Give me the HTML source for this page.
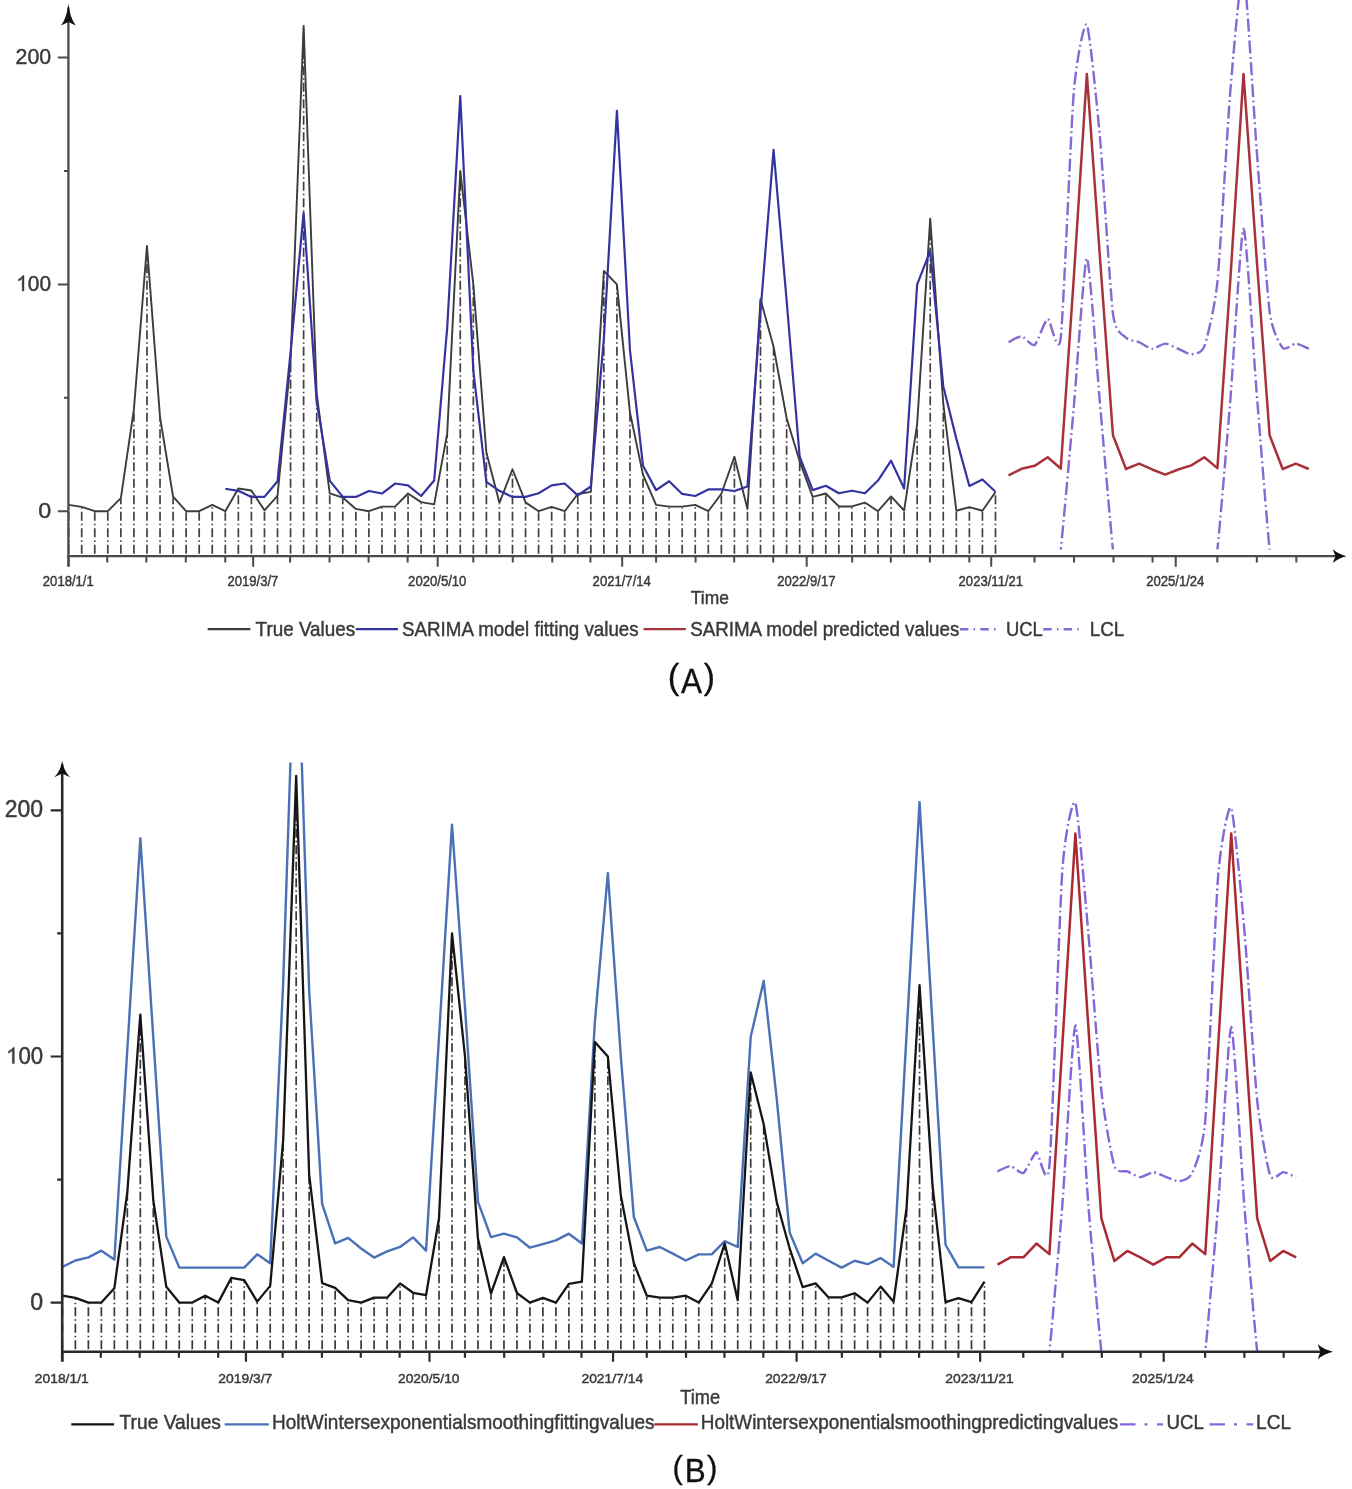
<!DOCTYPE html>
<html><head><meta charset="utf-8"><title>SARIMA and Holt-Winters forecasts</title>
<style>html,body{margin:0;padding:0;background:#fff;}body{width:1352px;height:1489px;overflow:hidden;font-family:"Liberation Sans",sans-serif;}svg{display:block;filter:blur(0.45px);}</style>
</head><body>
<svg width="1352" height="1489" viewBox="0 0 1352 1489">
<defs><clipPath id="clipA"><rect x="68" y="-5" width="1280" height="554.5"/></clipPath><clipPath id="clipB"><rect x="62" y="762.5" width="1280" height="589"/></clipPath></defs>
<rect width="1352" height="1489" fill="#fff"/>
<path d="M68.65,553.7 V505.85 M81.7,553.7 V507.89 M94.76,553.7 V512.2 M107.81,553.7 V512.2 M120.87,553.7 V499.05 M133.92,553.7 V410.14 M146.97,553.7 V246.84 M160.03,553.7 V418.08 M173.08,553.7 V497.68 M186.14,553.7 V512.2 M199.19,553.7 V512.2 M212.24,553.7 V505.85 M225.3,553.7 V512.2 M238.35,553.7 V489.52 M251.41,553.7 V491.56 M264.46,553.7 V511.29 M277.51,553.7 V496.78 M290.57,553.7 V362.51 M303.62,553.7 V26.85 M316.68,553.7 V394.26 M329.73,553.7 V494.28 M342.78,553.7 V498.59 M355.84,553.7 V509.93 M368.89,553.7 V512.2 M381.95,553.7 V507.66 M395,553.7 V507.66 M408.05,553.7 V494.51 M421.11,553.7 V503.13 M434.16,553.7 V505.4 M447.22,553.7 V434.41 M460.27,553.7 V172 M473.32,553.7 V285.4 M486.38,553.7 V453.46 M499.43,553.7 V503.81 M512.49,553.7 V470.24 M525.54,553.7 V503.35 M538.59,553.7 V512.2 M551.65,553.7 V507.89 M564.7,553.7 V512.2 M577.76,553.7 V494.96 M590.81,553.7 V492.92 M603.86,553.7 V272.02 M616.92,553.7 V285.4 M629.97,553.7 V413.54 M643.03,553.7 V475.91 M656.08,553.7 V505.85 M669.13,553.7 V507.66 M682.19,553.7 V507.66 M695.24,553.7 V505.85 M708.3,553.7 V512.2 M721.35,553.7 V494.74 M734.4,553.7 V457.77 M747.46,553.7 V509.93 M760.51,553.7 V300.14 M773.57,553.7 V347.77 M786.62,553.7 V419.21 M799.67,553.7 V462.3 M812.73,553.7 V497.91 M825.78,553.7 V494.51 M838.84,553.7 V507.44 M851.89,553.7 V507.44 M864.94,553.7 V503.58 M878,553.7 V512.2 M891.05,553.7 V497.46 M904.11,553.7 V511.52 M917.16,553.7 V425.11 M930.21,553.7 V219.63 M943.27,553.7 V404.47 M956.32,553.7 V511.75 M969.38,553.7 V508.12 M982.43,553.7 V511.75 M995.48,553.7 V492.92" stroke="#404040" stroke-width="1.7" fill="none" stroke-dasharray="9 3 1.5 3"/>
<path d="M68.65,504.85 L81.7,506.89 L94.76,511.2 L107.81,511.2 L120.87,498.05 L133.92,409.14 L146.97,245.84 L160.03,417.08 L173.08,496.68 L186.14,511.2 L199.19,511.2 L212.24,504.85 L225.3,511.2 L238.35,488.52 L251.41,490.56 L264.46,510.29 L277.51,495.78 L290.57,361.51 L303.62,25.85 L316.68,393.26 L329.73,493.28 L342.78,497.59 L355.84,508.93 L368.89,511.2 L381.95,506.66 L395,506.66 L408.05,493.51 L421.11,502.13 L434.16,504.4 L447.22,433.41 L460.27,171 L473.32,284.4 L486.38,452.46 L499.43,502.81 L512.49,469.24 L525.54,502.35 L538.59,511.2 L551.65,506.89 L564.7,511.2 L577.76,493.96 L590.81,491.92 L603.86,271.02 L616.92,284.4 L629.97,412.54 L643.03,474.91 L656.08,504.85 L669.13,506.66 L682.19,506.66 L695.24,504.85 L708.3,511.2 L721.35,493.74 L734.4,456.77 L747.46,508.93 L760.51,299.14 L773.57,346.77 L786.62,418.21 L799.67,461.3 L812.73,496.91 L825.78,493.51 L838.84,506.44 L851.89,506.44 L864.94,502.58 L878,511.2 L891.05,496.46 L904.11,510.52 L917.16,424.11 L930.21,218.63 L943.27,403.47 L956.32,510.75 L969.38,507.12 L982.43,510.75 L995.48,491.92" stroke="#3c3c3c" stroke-width="1.9" fill="none" stroke-linejoin="round"/>
<path d="M225.3,488.75 L238.35,490.79 L251.41,496.91 L264.46,496.91 L277.51,481.26 L290.57,352.44 L303.62,212.73 L316.68,401.66 L329.73,480.58 L342.78,496.91 L355.84,496.91 L368.89,491.01 L381.95,493.51 L395,483.53 L408.05,485.34 L421.11,496 L434.16,480.58 L447.22,327.49 L460.27,96.16 L473.32,370.58 L486.38,481.94 L499.43,490.79 L512.49,496.91 L525.54,496.91 L538.59,493.28 L551.65,485.34 L564.7,483.53 L577.76,495.32 L590.81,486.48 L603.86,338.83 L616.92,110.9 L629.97,350.17 L643.03,465.84 L656.08,490.11 L669.13,481.26 L682.19,493.96 L695.24,496 L708.3,489.43 L721.35,489.43 L734.4,491.01 L747.46,486.48 L760.51,311.62 L773.57,149.91 L786.62,300.28 L799.67,456.77 L812.73,490.11 L825.78,485.8 L838.84,493.28 L851.89,490.79 L864.94,493.28 L878,480.58 L891.05,460.62 L904.11,488.52 L917.16,284.4 L930.21,251.06 L943.27,386.23 L956.32,438.62 L969.38,486.03 L982.43,479.45 L995.48,491.7" stroke="#3434a0" stroke-width="2.2" fill="none" stroke-linejoin="round" clip-path="url(#clipA)"/>
<path d="M1008.54,342.23 C1009.84,341.64 1018.98,336.07 1021.59,336.34 C1024.2,336.61 1032.04,346.7 1034.65,344.96 C1037.26,343.21 1045.09,319.6 1047.7,318.87 C1050.31,318.15 1058.14,360.42 1060.75,337.7 C1063.36,314.97 1071.2,122.92 1073.81,91.62 C1076.42,60.32 1084.25,20.18 1086.86,24.71 C1089.47,29.25 1097.31,108.06 1099.92,136.98 C1102.53,165.9 1110.36,293.81 1112.97,313.88 C1115.58,333.96 1123.41,334.86 1126.02,337.7 C1128.63,340.53 1136.47,341.12 1139.08,342.23 C1141.69,343.35 1149.52,348.68 1152.13,348.81 C1154.74,348.95 1162.58,343.59 1165.19,343.59 C1167.8,343.59 1175.63,347.75 1178.24,348.81 C1180.85,349.88 1188.68,354.5 1191.29,354.25 C1193.9,354 1201.74,353.53 1204.35,346.32 C1206.96,339.1 1214.79,307.83 1217.4,282.13 C1220.01,256.44 1227.85,120.42 1230.46,89.35 C1233.07,58.28 1240.9,-34.48 1243.51,-28.58 C1246.12,-22.69 1253.95,114.3 1256.56,148.32 C1259.17,182.34 1267.01,291.66 1269.62,311.62 C1272.23,331.57 1280.06,344.71 1282.67,347.9 C1285.28,351.1 1293.12,343.5 1295.73,343.59 C1298.34,343.69 1307.47,348.29 1308.78,348.81" stroke="#8669d2" stroke-width="2.4" fill="none" stroke-dasharray="13 3.5 1.8 3.5" clip-path="url(#clipA)"/>
<path d="M1008.54,647.28 C1009.84,647.28 1018.98,647.28 1021.59,647.28 C1024.2,647.28 1032.04,647.28 1034.65,647.28 C1037.26,647.28 1045.09,657.03 1047.7,647.28 C1050.31,637.53 1058.14,573.8 1060.75,549.76 C1063.36,525.72 1071.2,436.02 1073.81,406.87 C1076.42,377.73 1084.25,258.7 1086.86,258.32 C1089.47,257.93 1097.31,373.87 1099.92,403.02 C1102.53,432.16 1110.36,525.33 1112.97,549.76 C1115.58,574.18 1123.41,637.53 1126.02,647.28 C1128.63,657.03 1136.47,647.28 1139.08,647.28 C1141.69,647.28 1149.52,647.28 1152.13,647.28 C1154.74,647.28 1162.58,647.28 1165.19,647.28 C1167.8,647.28 1175.63,647.28 1178.24,647.28 C1180.85,647.28 1188.68,647.28 1191.29,647.28 C1193.9,647.28 1201.74,657.03 1204.35,647.28 C1206.96,637.53 1214.79,574.64 1217.4,549.76 C1220.01,524.88 1227.85,430.6 1230.46,398.48 C1233.07,366.37 1240.9,229.29 1243.51,228.61 C1246.12,227.93 1253.95,359.56 1256.56,391.68 C1259.17,423.79 1267.01,524.2 1269.62,549.76 C1272.23,575.32 1280.06,637.53 1282.67,647.28 C1285.28,657.03 1293.12,647.28 1295.73,647.28 C1298.34,647.28 1307.47,647.28 1308.78,647.28" stroke="#8669d2" stroke-width="2.4" fill="none" stroke-dasharray="13 3.5 1.8 3.5" clip-path="url(#clipA)"/>
<path d="M1008.54,475.37 L1021.59,468.79 L1034.65,465.84 L1047.7,457.22 L1060.75,468.56 L1073.81,277.6 L1086.86,73.93 L1099.92,257.18 L1112.97,435.22 L1126.02,469.02 L1139.08,463.57 L1152.13,469.47 L1165.19,474.69 L1178.24,469.47 L1191.29,465.39 L1204.35,457.22 L1217.4,468.11 L1230.46,277.6 L1243.51,73.93 L1256.56,257.18 L1269.62,435.22 L1282.67,469.02 L1295.73,463.57 L1308.78,469.02" stroke="#a8323b" stroke-width="2.5" fill="none" stroke-linejoin="round"/>
<path d="M68.4,566.5 V7.6" stroke="#4a4a4a" stroke-width="2.3"/>
<path d="M67.4,556.2 H1342.5" stroke="#4a4a4a" stroke-width="2.3"/>
<path d="M68.4,3.6 Q69.88,18.05 75.8,25.5 L68.4,22 L61,25.5 Q66.92,18.05 68.4,3.6 Z" fill="#111"/>
<path d="M1346.5,556.2 Q1338.91,557.93 1332.7,563.1 L1335.5,556.2 L1332.7,549.3 Q1338.91,554.48 1346.5,556.2 Z" fill="#111"/>
<path d="M57.9,511.2 H68.4 M63.9,397.8 H68.4 M57.9,284.4 H68.4 M63.9,171 H68.4 M57.9,57.6 H68.4 M68.65,556.2 V566.7 M253.16,556.2 V566.7 M437.68,556.2 V566.7 M622.19,556.2 V566.7 M806.7,556.2 V566.7 M991.22,556.2 V566.7 M1175.73,556.2 V566.7 M107.27,556.2 V562.4 M146.32,556.2 V562.4 M185.79,556.2 V562.4 M225.27,556.2 V562.4 M290.07,556.2 V562.4 M329.54,556.2 V562.4 M368.59,556.2 V562.4 M407.64,556.2 V562.4 M473.29,556.2 V562.4 M512.77,556.2 V562.4 M552.25,556.2 V562.4 M590.44,556.2 V562.4 M656.09,556.2 V562.4 M695.57,556.2 V562.4 M734.18,556.2 V562.4 M773.23,556.2 V562.4 M852.19,556.2 V562.4 M890.81,556.2 V562.4 M929.85,556.2 V562.4 M969.33,556.2 V562.4 M1034.55,556.2 V562.4 M1074.03,556.2 V562.4 M1113.51,556.2 V562.4 M1152.56,556.2 V562.4 M1217.35,556.2 V562.4 M1256.83,556.2 V562.4 M1296.31,556.2 V562.4" stroke="#4a4a4a" stroke-width="2" fill="none"/>
<text transform="translate(38.17,517.7) scale(1.0606,1)" font-family="'Liberation Sans', sans-serif" font-size="22" fill="#3a3a3a" stroke="#3a3a3a" stroke-width="0.45">0</text>
<path d="M0.372,0 L0.284,0 L0.284,-0.560 Q0.252,-0.530 0.200,-0.500 Q0.150,-0.468 0.109,-0.446 L0.109,-0.531 Q0.175,-0.562 0.232,-0.609 Q0.290,-0.642 0.314,-0.698 L0.372,-0.698 Z" transform="translate(16.23,290.9) scale(20.9003,22.0000)" fill="#3a3a3a" stroke="#3a3a3a" stroke-width="0.0205"/>
<text transform="translate(27.86,290.9) scale(0.9500,1)" font-family="'Liberation Sans', sans-serif" font-size="22" fill="#3a3a3a" stroke="#3a3a3a" stroke-width="0.45">00</text>
<text transform="translate(15.53,64.1) scale(0.9695,1)" font-family="'Liberation Sans', sans-serif" font-size="22" fill="#3a3a3a" stroke="#3a3a3a" stroke-width="0.45">200</text>
<text transform="translate(42.83,585.5) scale(0.9360,1)" font-family="'Liberation Sans', sans-serif" font-size="14" fill="#3a3a3a" stroke="#3a3a3a" stroke-width="0.45">2018/1/1</text>
<text transform="translate(227.38,585.5) scale(0.9360,1)" font-family="'Liberation Sans', sans-serif" font-size="14" fill="#3a3a3a" stroke="#3a3a3a" stroke-width="0.45">2019/3/7</text>
<text transform="translate(408.12,585.5) scale(0.9360,1)" font-family="'Liberation Sans', sans-serif" font-size="14" fill="#3a3a3a" stroke="#3a3a3a" stroke-width="0.45">2020/5/10</text>
<text transform="translate(592.6,585.5) scale(0.9360,1)" font-family="'Liberation Sans', sans-serif" font-size="14" fill="#3a3a3a" stroke="#3a3a3a" stroke-width="0.45">2021/7/14</text>
<text transform="translate(777.25,585.5) scale(0.9360,1)" font-family="'Liberation Sans', sans-serif" font-size="14" fill="#3a3a3a" stroke="#3a3a3a" stroke-width="0.45">2022/9/17</text>
<text transform="translate(958.58,585.5) scale(0.9360,1)" font-family="'Liberation Sans', sans-serif" font-size="14" fill="#3a3a3a" stroke="#3a3a3a" stroke-width="0.45">2023/11/21</text>
<text transform="translate(1146.14,585.5) scale(0.9360,1)" font-family="'Liberation Sans', sans-serif" font-size="14" fill="#3a3a3a" stroke="#3a3a3a" stroke-width="0.45">2025/1/24</text>
<text transform="translate(690.85,604.4) scale(0.9670,1)" font-family="'Liberation Sans', sans-serif" font-size="18" fill="#3a3a3a" stroke="#3a3a3a" stroke-width="0.45">Time</text>
<path d="M207.7,629.2 H250.4" stroke="#3c3c3c" stroke-width="2.2"/>
<text transform="translate(255.62,635.7) scale(0.9628,1)" font-family="'Liberation Sans', sans-serif" font-size="19.6" fill="#3a3a3a" stroke="#3a3a3a" stroke-width="0.45">True Values</text>
<path d="M355.8,629.2 H398" stroke="#3434a0" stroke-width="2.2"/>
<text transform="translate(402.06,635.7) scale(0.9577,1)" font-family="'Liberation Sans', sans-serif" font-size="19.6" fill="#3a3a3a" stroke="#3a3a3a" stroke-width="0.45">SARIMA model fitting values</text>
<path d="M643.6,629.2 H685.8" stroke="#a8323b" stroke-width="2.2"/>
<text transform="translate(690.15,635.7) scale(0.9582,1)" font-family="'Liberation Sans', sans-serif" font-size="19.6" fill="#3a3a3a" stroke="#3a3a3a" stroke-width="0.45">SARIMA model predicted values</text>
<path d="M959.9,629.2 H996.6" stroke="#8669d2" stroke-width="2.4" stroke-dasharray="8.5 5.2 1.5 5.2"/>
<text transform="translate(1006.02,635.7) scale(0.9396,1)" font-family="'Liberation Sans', sans-serif" font-size="19.6" fill="#3a3a3a" stroke="#3a3a3a" stroke-width="0.45">UCL</text>
<path d="M1043.2,629.2 H1080" stroke="#8669d2" stroke-width="2.4" stroke-dasharray="8.5 5.2 1.5 5.2"/>
<text transform="translate(1089.7,635.7) scale(0.9583,1)" font-family="'Liberation Sans', sans-serif" font-size="19.6" fill="#3a3a3a" stroke="#3a3a3a" stroke-width="0.45">LCL</text>
<text transform="translate(667.72,689) scale(1.0092,1)" font-family="'Liberation Sans', sans-serif" font-size="34.4" fill="#111" stroke="#111" stroke-width="0.3">(</text>
<text transform="translate(681.1,692.9) scale(0.8821,1)" font-family="'Liberation Sans', sans-serif" font-size="35.8" fill="#111" stroke="#111" stroke-width="0.3">A</text>
<text transform="translate(703.63,689) scale(0.9763,1)" font-family="'Liberation Sans', sans-serif" font-size="34.4" fill="#111" stroke="#111" stroke-width="0.3">)</text>
<path d="M62.4,1349.3 V1296.71 M75.39,1349.3 V1298.92 M88.37,1349.3 V1303.6 M101.36,1349.3 V1303.6 M114.35,1349.3 V1289.33 M127.34,1349.3 V1192.86 M140.32,1349.3 V1015.66 M153.31,1349.3 V1201.47 M166.3,1349.3 V1287.85 M179.28,1349.3 V1303.6 M192.27,1349.3 V1303.6 M205.26,1349.3 V1296.71 M218.24,1349.3 V1303.6 M231.23,1349.3 V1278.99 M244.22,1349.3 V1281.2 M257.2,1349.3 V1302.62 M270.19,1349.3 V1286.87 M283.18,1349.3 V1141.17 M296.17,1349.3 V776.95 M309.15,1349.3 V1175.63 M322.14,1349.3 V1284.16 M335.13,1349.3 V1288.83 M348.11,1349.3 V1301.14 M361.1,1349.3 V1303.6 M374.09,1349.3 V1298.68 M387.07,1349.3 V1298.68 M400.06,1349.3 V1284.4 M413.05,1349.3 V1293.76 M426.04,1349.3 V1296.22 M439.02,1349.3 V1219.19 M452.01,1349.3 V934.45 M465,1349.3 V1057.5 M477.98,1349.3 V1239.86 M490.97,1349.3 V1294.49 M503.96,1349.3 V1258.07 M516.95,1349.3 V1294 M529.93,1349.3 V1303.6 M542.92,1349.3 V1298.92 M555.91,1349.3 V1303.6 M568.89,1349.3 V1284.9 M581.88,1349.3 V1282.68 M594.87,1349.3 V1042.98 M607.85,1349.3 V1057.5 M620.84,1349.3 V1196.55 M633.83,1349.3 V1264.22 M646.81,1349.3 V1296.71 M659.8,1349.3 V1298.68 M672.79,1349.3 V1298.68 M685.78,1349.3 V1296.71 M698.76,1349.3 V1303.6 M711.75,1349.3 V1284.65 M724.74,1349.3 V1244.54 M737.72,1349.3 V1301.14 M750.71,1349.3 V1073.5 M763.7,1349.3 V1125.18 M776.68,1349.3 V1202.7 M789.67,1349.3 V1249.46 M802.66,1349.3 V1288.1 M815.65,1349.3 V1284.4 M828.63,1349.3 V1298.43 M841.62,1349.3 V1298.43 M854.61,1349.3 V1294.25 M867.59,1349.3 V1303.6 M880.58,1349.3 V1287.6 M893.57,1349.3 V1302.86 M906.55,1349.3 V1209.1 M919.54,1349.3 V986.13 M932.53,1349.3 V1186.7 M945.52,1349.3 V1303.11 M958.5,1349.3 V1299.17 M971.49,1349.3 V1303.11 M984.48,1349.3 V1282.68" stroke="#383838" stroke-width="1.7" fill="none" stroke-dasharray="9 3 1.5 3"/>
<path d="M62.4,1266.92 L75.39,1260.52 L88.37,1257.32 L101.36,1250.67 L114.35,1259.53 L127.34,1049.12 L140.32,838.21 L153.31,1037.8 L166.3,1236.65 L179.28,1267.65 L192.27,1267.65 L205.26,1267.65 L218.24,1267.65 L231.23,1267.65 L244.22,1267.65 L257.2,1254.36 L270.19,1263.22 L283.18,982.67 L296.17,588.91 L309.15,990.05 L322.14,1203.91 L335.13,1243.29 L348.11,1237.88 L361.1,1248.46 L374.09,1257.56 L387.07,1251.41 L400.06,1246.98 L413.05,1237.38 L426.04,1250.67 L439.02,1036.81 L452.01,824.67 L465,1007.28 L477.98,1201.95 L490.97,1237.14 L503.96,1233.69 L516.95,1237.38 L529.93,1247.72 L542.92,1244.03 L555.91,1240.34 L568.89,1233.69 L581.88,1243.54 L594.87,1022.05 L607.85,873.16 L620.84,1056.5 L633.83,1216.96 L646.81,1250.67 L659.8,1246.98 L672.79,1253.63 L685.78,1260.52 L698.76,1254.36 L711.75,1254.36 L724.74,1241.07 L737.72,1246.98 L750.71,1036.81 L763.7,980.95 L776.68,1098.34 L789.67,1232.46 L802.66,1263.22 L815.65,1253.63 L828.63,1260.76 L841.62,1267.65 L854.61,1260.76 L867.59,1264.21 L880.58,1258.06 L893.57,1266.92 L906.55,1034.35 L919.54,802.03 L932.53,1024.51 L945.52,1244.77 L958.5,1267.41 L971.49,1267.41 L984.48,1267.41" stroke="#4a70b5" stroke-width="2.4" fill="none" stroke-linejoin="round" clip-path="url(#clipB)"/>
<path d="M62.4,1295.71 L75.39,1297.92 L88.37,1302.6 L101.36,1302.6 L114.35,1288.33 L127.34,1191.86 L140.32,1014.66 L153.31,1200.47 L166.3,1286.85 L179.28,1302.6 L192.27,1302.6 L205.26,1295.71 L218.24,1302.6 L231.23,1277.99 L244.22,1280.2 L257.2,1301.62 L270.19,1285.87 L283.18,1140.17 L296.17,775.95 L309.15,1174.63 L322.14,1283.16 L335.13,1287.83 L348.11,1300.14 L361.1,1302.6 L374.09,1297.68 L387.07,1297.68 L400.06,1283.4 L413.05,1292.76 L426.04,1295.22 L439.02,1218.19 L452.01,933.45 L465,1056.5 L477.98,1238.86 L490.97,1293.49 L503.96,1257.07 L516.95,1293 L529.93,1302.6 L542.92,1297.92 L555.91,1302.6 L568.89,1283.9 L581.88,1281.68 L594.87,1041.98 L607.85,1056.5 L620.84,1195.55 L633.83,1263.22 L646.81,1295.71 L659.8,1297.68 L672.79,1297.68 L685.78,1295.71 L698.76,1302.6 L711.75,1283.65 L724.74,1243.54 L737.72,1300.14 L750.71,1072.5 L763.7,1124.18 L776.68,1201.7 L789.67,1248.46 L802.66,1287.1 L815.65,1283.4 L828.63,1297.43 L841.62,1297.43 L854.61,1293.25 L867.59,1302.6 L880.58,1286.6 L893.57,1301.86 L906.55,1208.1 L919.54,985.13 L932.53,1185.7 L945.52,1302.11 L958.5,1298.17 L971.49,1302.11 L984.48,1281.68" stroke="#151515" stroke-width="2.3" fill="none" stroke-linejoin="round"/>
<path d="M997.46,1171.43 C998.76,1170.89 1007.85,1165.87 1010.45,1166.01 C1013.05,1166.16 1020.84,1174.28 1023.44,1172.91 C1026.04,1171.53 1033.83,1152.92 1036.42,1152.23 C1039.02,1151.54 1046.81,1194.29 1049.41,1166.01 C1052.01,1137.74 1059.8,905.76 1062.4,869.46 C1065,833.16 1072.79,796.62 1075.39,803.02 C1077.98,809.42 1085.78,904.66 1088.37,933.45 C1090.97,962.24 1098.76,1067.7 1101.36,1090.95 C1103.96,1114.21 1111.75,1157.97 1114.35,1166.01 C1116.94,1174.06 1124.74,1170.32 1127.33,1171.43 C1129.93,1172.54 1137.72,1177.02 1140.32,1177.09 C1142.92,1177.16 1150.71,1172.17 1153.31,1172.17 C1155.91,1172.17 1163.7,1176.18 1166.3,1177.09 C1168.89,1178 1176.68,1181.69 1179.28,1181.27 C1181.88,1180.85 1189.67,1178.98 1192.27,1172.91 C1194.87,1166.83 1202.66,1150.34 1205.26,1120.49 C1207.85,1090.63 1215.65,905.64 1218.24,874.39 C1220.84,843.13 1228.63,802.52 1231.23,807.94 C1233.83,813.35 1241.62,899.24 1244.22,928.53 C1246.81,957.81 1254.61,1076.09 1257.2,1100.8 C1259.8,1125.51 1267.59,1168.48 1270.19,1175.61 C1272.79,1182.75 1280.58,1172.02 1283.18,1172.17 C1285.78,1172.31 1294.87,1176.6 1296.17,1177.09" stroke="#8565da" stroke-width="2.4" fill="none" stroke-dasharray="13 3.5 1.8 3.5" clip-path="url(#clipB)"/>
<path d="M997.46,1450.26 C998.76,1450.26 1007.85,1450.26 1010.45,1450.26 C1013.05,1450.26 1020.84,1450.26 1023.44,1450.26 C1026.04,1450.26 1033.83,1460.1 1036.42,1450.26 C1039.02,1440.42 1046.81,1376.43 1049.41,1351.82 C1052.01,1327.21 1059.8,1236.82 1062.4,1204.16 C1065,1171.5 1072.79,1025.12 1075.39,1025.25 C1077.98,1025.37 1085.78,1172.73 1088.37,1205.39 C1090.97,1238.05 1098.76,1327.33 1101.36,1351.82 C1103.96,1376.31 1111.75,1440.42 1114.35,1450.26 C1116.94,1460.1 1124.74,1450.26 1127.33,1450.26 C1129.93,1450.26 1137.72,1450.26 1140.32,1450.26 C1142.92,1450.26 1150.71,1450.26 1153.31,1450.26 C1155.91,1450.26 1163.7,1450.26 1166.3,1450.26 C1168.89,1450.26 1176.68,1450.26 1179.28,1450.26 C1181.88,1450.26 1189.67,1460.1 1192.27,1450.26 C1194.87,1440.42 1202.66,1376.43 1205.26,1351.82 C1207.85,1327.21 1215.65,1236.65 1218.24,1204.16 C1220.84,1171.67 1228.63,1026.97 1231.23,1026.97 C1233.83,1026.97 1241.62,1171.67 1244.22,1204.16 C1246.81,1236.65 1254.61,1327.21 1257.2,1351.82 C1259.8,1376.43 1267.59,1440.42 1270.19,1450.26 C1272.79,1460.1 1280.58,1450.26 1283.18,1450.26 C1285.78,1450.26 1294.87,1450.26 1296.17,1450.26" stroke="#8565da" stroke-width="2.4" fill="none" stroke-dasharray="13 3.5 1.8 3.5" clip-path="url(#clipB)"/>
<path d="M997.46,1264.7 L1010.45,1257.32 L1023.44,1257.32 L1036.42,1243.54 L1049.41,1254.12 L1062.4,1044.19 L1075.39,833.53 L1088.37,1026.97 L1101.36,1218.43 L1114.35,1261.01 L1127.33,1250.92 L1140.32,1257.32 L1153.31,1264.7 L1166.3,1257.32 L1179.28,1257.32 L1192.27,1243.54 L1205.26,1254.12 L1218.24,1044.19 L1231.23,833.53 L1244.22,1026.97 L1257.2,1218.43 L1270.19,1261.01 L1283.18,1250.92 L1296.17,1257.32" stroke="#aa2a32" stroke-width="2.5" fill="none" stroke-linejoin="round"/>
<path d="M62.2,1361.5 V764.6" stroke="#2a2a2a" stroke-width="2.6"/>
<path d="M61.2,1351.8 H1329" stroke="#2a2a2a" stroke-width="2.6"/>
<path d="M62.2,760.6 Q63.8,771.56 70.2,777.2 L62.2,773.6 L54.2,777.2 Q60.6,771.56 62.2,760.6 Z" fill="#111"/>
<path d="M1333,1351.8 Q1324.59,1353.67 1317.7,1359.3 L1320.4,1351.8 L1317.7,1344.3 Q1324.59,1349.92 1333,1351.8 Z" fill="#111"/>
<path d="M50.7,1302.6 H62.2 M57.2,1179.55 H62.2 M50.7,1056.5 H62.2 M57.2,933.45 H62.2 M50.7,810.4 H62.2 M62.4,1351.8 V1361.8 M245.95,1351.8 V1361.8 M429.5,1351.8 V1361.8 M613.05,1351.8 V1361.8 M796.6,1351.8 V1361.8 M980.15,1351.8 V1361.8 M1163.7,1351.8 V1361.8 M100.82,1351.8 V1357.8 M139.66,1351.8 V1357.8 M178.93,1351.8 V1357.8 M218.2,1351.8 V1357.8 M282.66,1351.8 V1357.8 M321.93,1351.8 V1357.8 M360.78,1351.8 V1357.8 M399.62,1351.8 V1357.8 M464.93,1351.8 V1357.8 M504.2,1351.8 V1357.8 M543.47,1351.8 V1357.8 M581.46,1351.8 V1357.8 M646.77,1351.8 V1357.8 M686.04,1351.8 V1357.8 M724.46,1351.8 V1357.8 M763.3,1351.8 V1357.8 M841.85,1351.8 V1357.8 M880.26,1351.8 V1357.8 M919.11,1351.8 V1357.8 M958.38,1351.8 V1357.8 M1023.26,1351.8 V1357.8 M1062.53,1351.8 V1357.8 M1101.8,1351.8 V1357.8 M1140.65,1351.8 V1357.8 M1205.1,1351.8 V1357.8 M1244.38,1351.8 V1357.8 M1283.65,1351.8 V1357.8" stroke="#2a2a2a" stroke-width="2.2" fill="none"/>
<text transform="translate(30.27,1309.6) scale(1.0054,1)" font-family="'Liberation Sans', sans-serif" font-size="23" fill="#3a3a3a" stroke="#3a3a3a" stroke-width="0.45">0</text>
<path d="M0.372,0 L0.284,0 L0.284,-0.560 Q0.252,-0.530 0.200,-0.500 Q0.150,-0.468 0.109,-0.446 L0.109,-0.531 Q0.175,-0.562 0.232,-0.609 Q0.290,-0.642 0.314,-0.698 L0.372,-0.698 Z" transform="translate(6.03,1063.5) scale(22.2508,23.0000)" fill="#3a3a3a" stroke="#3a3a3a" stroke-width="0.0196"/>
<text transform="translate(18.41,1063.5) scale(0.9674,1)" font-family="'Liberation Sans', sans-serif" font-size="23" fill="#3a3a3a" stroke="#3a3a3a" stroke-width="0.45">00</text>
<text transform="translate(4.75,817.4) scale(1.0017,1)" font-family="'Liberation Sans', sans-serif" font-size="23" fill="#3a3a3a" stroke="#3a3a3a" stroke-width="0.45">200</text>
<text transform="translate(34.78,1383.1) scale(1.0200,1)" font-family="'Liberation Sans', sans-serif" font-size="13.6" fill="#3a3a3a" stroke="#3a3a3a" stroke-width="0.45">2018/1/1</text>
<text transform="translate(218.37,1383.1) scale(1.0200,1)" font-family="'Liberation Sans', sans-serif" font-size="13.6" fill="#3a3a3a" stroke="#3a3a3a" stroke-width="0.45">2019/3/7</text>
<text transform="translate(397.93,1383.1) scale(1.0200,1)" font-family="'Liberation Sans', sans-serif" font-size="13.6" fill="#3a3a3a" stroke="#3a3a3a" stroke-width="0.45">2020/5/10</text>
<text transform="translate(581.45,1383.1) scale(1.0200,1)" font-family="'Liberation Sans', sans-serif" font-size="13.6" fill="#3a3a3a" stroke="#3a3a3a" stroke-width="0.45">2021/7/14</text>
<text transform="translate(765.13,1383.1) scale(1.0200,1)" font-family="'Liberation Sans', sans-serif" font-size="13.6" fill="#3a3a3a" stroke="#3a3a3a" stroke-width="0.45">2022/9/17</text>
<text transform="translate(945.32,1383.1) scale(1.0200,1)" font-family="'Liberation Sans', sans-serif" font-size="13.6" fill="#3a3a3a" stroke="#3a3a3a" stroke-width="0.45">2023/11/21</text>
<text transform="translate(1132.09,1383.1) scale(1.0200,1)" font-family="'Liberation Sans', sans-serif" font-size="13.6" fill="#3a3a3a" stroke="#3a3a3a" stroke-width="0.45">2025/1/24</text>
<text transform="translate(680.24,1403.7) scale(0.9434,1)" font-family="'Liberation Sans', sans-serif" font-size="19.3" fill="#3a3a3a" stroke="#3a3a3a" stroke-width="0.45">Time</text>
<path d="M71.3,1424.4 H114.1" stroke="#151515" stroke-width="2.2"/>
<text transform="translate(119.52,1429.4) scale(0.9714,1)" font-family="'Liberation Sans', sans-serif" font-size="19.8" fill="#3a3a3a" stroke="#3a3a3a" stroke-width="0.45">True Values</text>
<path d="M224.7,1424.4 H268.8" stroke="#4a70b5" stroke-width="2.2"/>
<text transform="translate(272.08,1429.4) scale(0.9575,1)" font-family="'Liberation Sans', sans-serif" font-size="19.8" fill="#3a3a3a" stroke="#3a3a3a" stroke-width="0.45">HoltWintersexponentialsmoothingfittingvalues</text>
<path d="M654.2,1424.4 H697.9" stroke="#aa2a32" stroke-width="2.2"/>
<text transform="translate(700.79,1429.4) scale(0.9539,1)" font-family="'Liberation Sans', sans-serif" font-size="19.8" fill="#3a3a3a" stroke="#3a3a3a" stroke-width="0.45">HoltWintersexponentialsmoothingpredictingvalues</text>
<path d="M1120,1424.4 H1163" stroke="#8565da" stroke-width="2.4" stroke-dasharray="15.5 9 3 9.5"/>
<text transform="translate(1166.6,1429.4) scale(0.9435,1)" font-family="'Liberation Sans', sans-serif" font-size="19.8" fill="#3a3a3a" stroke="#3a3a3a" stroke-width="0.45">UCL</text>
<path d="M1209.5,1424.4 H1253.1" stroke="#8565da" stroke-width="2.4" stroke-dasharray="15.5 9 3 9.5"/>
<text transform="translate(1256.07,1429.4) scale(0.9662,1)" font-family="'Liberation Sans', sans-serif" font-size="19.8" fill="#3a3a3a" stroke="#3a3a3a" stroke-width="0.45">LCL</text>
<text transform="translate(672.44,1477.7) scale(0.9731,1)" font-family="'Liberation Sans', sans-serif" font-size="31.8" fill="#111" stroke="#111" stroke-width="0.3">(</text>
<text transform="translate(684.79,1481.7) scale(0.9374,1)" font-family="'Liberation Sans', sans-serif" font-size="33.5" fill="#111" stroke="#111" stroke-width="0.3">B</text>
<text transform="translate(706.94,1477.7) scale(0.9849,1)" font-family="'Liberation Sans', sans-serif" font-size="31.8" fill="#111" stroke="#111" stroke-width="0.3">)</text>
</svg>
</body></html>
